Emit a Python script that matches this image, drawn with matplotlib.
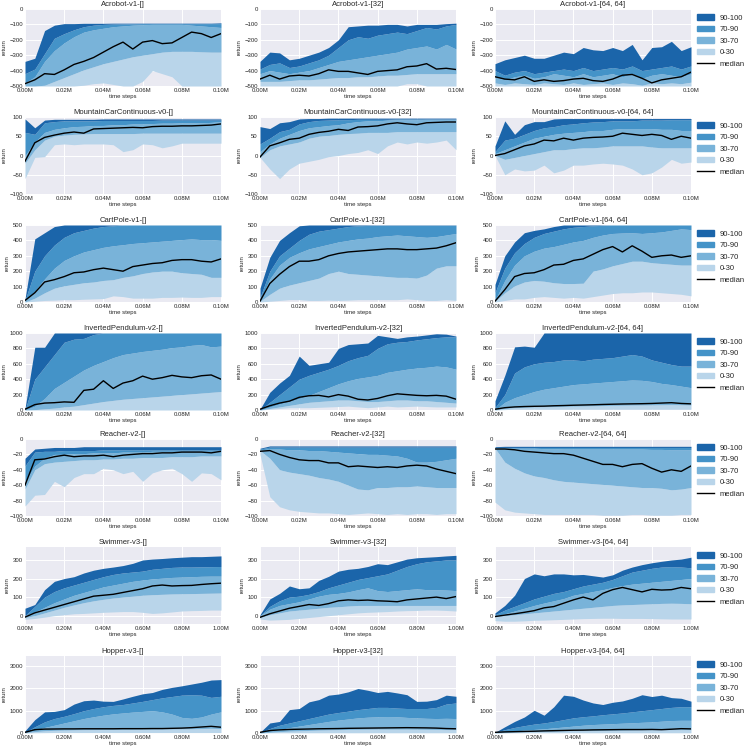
import matplotlib
matplotlib.use("Agg")
import matplotlib.pyplot as plt
from matplotlib.patches import Patch
from matplotlib.lines import Line2D
from matplotlib.ticker import FuncFormatter, MultipleLocator

plt.rcParams['font.family'] = ['Liberation Sans', 'DejaVu Sans']
plt.rcParams['axes.facecolor'] = '#EAEAF2'
plt.rcParams['axes.edgecolor'] = 'white'
plt.rcParams['axes.grid'] = True
plt.rcParams['axes.axisbelow'] = True
plt.rcParams['grid.color'] = 'white'
plt.rcParams['grid.linewidth'] = 0.7
plt.rcParams['xtick.major.size'] = 0
plt.rcParams['ytick.major.size'] = 0
plt.rcParams['text.color'] = '.15'
plt.rcParams['xtick.color'] = '.15'
plt.rcParams['ytick.color'] = '.15'
plt.rcParams['axes.labelcolor'] = '.15'

# time steps of the logged points
steps_short = [0, 5000, 10000, 15000, 20000, 25000, 30000, 35000, 40000, 45000, 50000,
               55000, 60000, 65000, 70000, 75000, 80000, 85000, 90000, 95000, 100000]
steps_long = [0, 50000, 100000, 150000, 200000, 250000, 300000, 350000, 400000, 450000, 500000,
              550000, 600000, 650000, 700000, 750000, 800000, 850000, 900000, 950000, 1000000]

# Acrobot-v1
acro_a_lo = [-500, -500, -500, -500, -500, -500, -495, -485, -480, -490, -500, -500, -470, -400, -420, -440, -500, -500, -500, -500, -500]
acro_a_p30 = [-500, -500, -495, -470, -445, -420, -395, -375, -355, -340, -325, -310, -300, -290, -280, -275, -275, -275, -278, -280, -280]
acro_a_p70 = [-480, -440, -340, -270, -220, -180, -150, -135, -125, -115, -110, -105, -102, -100, -100, -100, -100, -105, -110, -115, -120]
acro_a_p90 = [-420, -390, -290, -190, -160, -135, -115, -105, -100, -98, -97, -96, -95, -95, -95, -95, -95, -95, -95, -95, -95]
acro_a_hi = [-340, -320, -140, -105, -95, -95, -93, -93, -93, -92, -92, -92, -92, -92, -92, -92, -92, -92, -92, -92, -90]
acro_a_med = [-485, -460, -420, -425, -395, -360, -340, -315, -280, -245, -215, -260, -215, -205, -225, -220, -185, -150, -160, -185, -160]

acro_b_lo = [-500, -500, -500, -500, -500, -500, -500, -500, -500, -500, -500, -500, -500, -500, -500, -485, -485, -500, -500, -500, -500]
acro_b_p30 = [-470, -470, -470, -465, -460, -460, -455, -450, -445, -445, -440, -440, -435, -430, -430, -425, -420, -420, -420, -420, -420]
acro_b_p70 = [-420, -400, -410, -420, -410, -400, -380, -360, -340, -330, -320, -310, -300, -290, -280, -260, -250, -240, -260, -230, -260]
acro_b_p90 = [-390, -360, -350, -380, -370, -350, -330, -300, -250, -200, -180, -190, -170, -160, -150, -160, -140, -120, -130, -110, -100]
acro_b_hi = [-340, -280, -285, -330, -320, -300, -280, -250, -200, -115, -110, -105, -105, -100, -100, -110, -100, -100, -100, -95, -92]
acro_b_med = [-455, -430, -455, -435, -430, -435, -420, -395, -405, -405, -415, -425, -405, -400, -395, -375, -370, -355, -390, -385, -393]

acro_c_lo = [-500, -500, -500, -500, -500, -500, -500, -500, -500, -500, -500, -500, -500, -500, -500, -500, -500, -500, -500, -500, -500]
acro_c_p30 = [-480, -490, -480, -485, -490, -480, -485, -490, -480, -490, -485, -480, -490, -480, -485, -495, -480, -485, -480, -485, -475]
acro_c_p70 = [-440, -460, -440, -430, -450, -440, -420, -430, -440, -420, -440, -430, -420, -440, -420, -450, -430, -420, -430, -440, -420]
acro_c_p90 = [-400, -430, -410, -400, -420, -410, -400, -390, -400, -380, -400, -390, -380, -390, -370, -400, -390, -380, -370, -390, -370]
acro_c_hi = [-355, -330, -315, -300, -320, -320, -300, -280, -290, -250, -265, -270, -250, -270, -230, -330, -250, -245, -210, -270, -245]
acro_c_med = [-440, -455, -460, -440, -470, -460, -470, -465, -455, -450, -465, -470, -455, -430, -425, -450, -480, -460, -450, -440, -410]

# MountainCarContinuous-v0
mcar_a_lo = [-60, -5, -3, 28, 30, 28, 30, 30, 30, 28, 10, 15, 30, 28, 20, 25, 32, 32, 32, 32, 32]
mcar_a_p30 = [-20, 15, 40, 50, 53, 55, 56, 57, 57, 57, 57, 57, 58, 58, 58, 58, 58, 58, 58, 58, 58]
mcar_a_p70 = [0, 35, 60, 68, 72, 75, 76, 78, 78, 80, 80, 82, 82, 83, 84, 84, 85, 85, 85, 86, 88]
mcar_a_p90 = [60, 55, 85, 88, 90, 90, 90, 90, 91, 91, 91, 91, 91, 91, 92, 92, 92, 92, 92, 92, 92]
mcar_a_hi = [95, 72, 92, 94, 94, 94, 94, 94, 95, 95, 95, 95, 95, 95, 95, 95, 95, 95, 95, 95, 95]
mcar_a_med = [-15, 33, 47, 53, 58, 61, 58, 69, 70, 71, 72, 73, 72, 75, 76, 76, 77, 77, 78, 79, 82]

mcar_b_lo = [-5, -35, -60, -35, -20, -15, -10, -3, 0, 5, 8, 15, 5, 25, 35, 30, 35, 32, 35, 40, 15]
mcar_b_p30 = [-5, 15, 25, 30, 35, 45, 50, 52, 55, 57, 58, 60, 60, 60, 62, 62, 62, 62, 62, 62, 62]
mcar_b_p70 = [10, 30, 45, 55, 65, 72, 75, 78, 80, 85, 88, 90, 90, 92, 93, 93, 93, 94, 94, 94, 94]
mcar_b_p90 = [30, 45, 62, 68, 82, 88, 91, 92, 93, 93, 94, 94, 94, 94, 95, 95, 95, 95, 95, 95, 95]
mcar_b_hi = [75, 70, 85, 88, 95, 96, 96, 97, 97, 97, 97, 97, 97, 97, 97, 97, 97, 97, 97, 97, 97]
mcar_b_med = [-4, 25, 33, 42, 45, 55, 60, 63, 68, 65, 74, 75, 77, 82, 85, 82, 80, 85, 86, 87, 87]

mcar_c_lo = [0, -50, -35, -40, -38, -25, -45, -38, -25, -25, -22, -20, -22, -25, -35, -50, -45, -30, -10, -20, -17]
mcar_c_p30 = [0, -10, -5, 0, 5, 10, 15, 15, 18, 20, 20, 22, 25, 25, 25, 25, 22, 20, 20, 20, 20]
mcar_c_p70 = [5, 15, 25, 35, 45, 50, 55, 58, 60, 62, 65, 65, 68, 70, 70, 70, 70, 68, 68, 65, 65]
mcar_c_p90 = [10, 40, 45, 55, 65, 72, 75, 80, 82, 85, 87, 88, 90, 90, 90, 92, 92, 92, 93, 93, 93]
mcar_c_hi = [25, 90, 55, 80, 88, 88, 95, 96, 96, 96, 96, 96, 96, 96, 96, 96, 96, 96, 96, 96, 96]
mcar_c_med = [0, 5, 15, 25, 30, 40, 38, 45, 40, 45, 47, 48, 50, 58, 55, 52, 55, 52, 42, 50, 45]

# CartPole-v1
cart_a_lo = [0, 5, 10, 12, 15, 15, 18, 20, 22, 40, 35, 25, 25, 25, 30, 30, 32, 30, 30, 35, 35]
cart_a_p30 = [0, 25, 60, 90, 105, 115, 125, 130, 140, 145, 160, 170, 185, 195, 200, 200, 190, 185, 180, 160, 160]
cart_a_p70 = [5, 70, 150, 220, 270, 300, 325, 340, 355, 365, 372, 380, 385, 390, 395, 400, 405, 410, 405, 405, 400]
cart_a_p90 = [10, 200, 300, 370, 420, 450, 465, 480, 490, 495, 500, 500, 500, 500, 500, 500, 500, 500, 500, 500, 500]
cart_a_hi = [20, 410, 450, 490, 500, 500, 500, 500, 500, 500, 500, 500, 500, 500, 500, 500, 500, 500, 500, 500, 500]
cart_a_med = [10, 60, 130, 145, 165, 190, 195, 210, 220, 210, 200, 230, 240, 250, 255, 270, 275, 275, 265, 260, 280]

cart_b_lo = [0, 5, 10, 15, 15, 10, 10, 12, 10, 12, 15, 15, 15, 15, 15, 20, 15, 10, 10, 15, 10]
cart_b_p30 = [5, 50, 90, 110, 125, 140, 155, 185, 200, 185, 180, 175, 170, 165, 160, 160, 155, 175, 220, 235, 235]
cart_b_p70 = [5, 150, 240, 290, 320, 345, 360, 375, 390, 400, 410, 415, 425, 430, 435, 430, 425, 420, 425, 435, 445]
cart_b_p90 = [30, 200, 300, 350, 400, 440, 460, 470, 480, 490, 495, 497, 498, 498, 498, 498, 498, 498, 498, 498, 498]
cart_b_hi = [90, 290, 400, 450, 495, 500, 500, 500, 500, 500, 500, 500, 500, 500, 500, 500, 500, 500, 500, 500, 500]
cart_b_med = [5, 120, 180, 230, 265, 265, 275, 300, 315, 325, 330, 335, 340, 345, 345, 340, 340, 345, 350, 365, 385]

cart_c_lo = [0, 10, 20, 20, 30, 35, 30, 25, 30, 25, 35, 45, 55, 60, 60, 65, 65, 60, 55, 50, 40]
cart_c_p30 = [5, 60, 105, 130, 140, 135, 125, 120, 120, 122, 200, 215, 235, 250, 265, 265, 255, 250, 245, 240, 240]
cart_c_p70 = [10, 140, 240, 300, 330, 350, 360, 375, 390, 400, 420, 435, 445, 448, 450, 445, 450, 455, 465, 475, 470]
cart_c_p90 = [60, 220, 320, 380, 420, 445, 460, 475, 485, 490, 495, 498, 500, 500, 500, 500, 500, 500, 500, 500, 500]
cart_c_hi = [115, 300, 390, 450, 465, 475, 490, 500, 500, 500, 500, 500, 500, 500, 500, 500, 500, 500, 500, 500, 500]
cart_c_med = [5, 80, 165, 185, 190, 210, 240, 245, 270, 280, 310, 340, 360, 325, 365, 330, 290, 300, 305, 290, 300]

# InvertedPendulum-v2
pend_a_lo = [0, 0, 0, 0, 0, 0, 0, 0, 0, 0, 0, 0, 0, 0, 0, 0, 0, 0, 0, 0, 0]
pend_a_p30 = [0, 5, 15, 25, 40, 50, 70, 90, 110, 125, 140, 150, 160, 170, 180, 190, 200, 210, 220, 230, 240]
pend_a_p70 = [0, 50, 150, 280, 360, 440, 520, 580, 630, 680, 720, 740, 760, 775, 790, 810, 820, 840, 850, 820, 830]
pend_a_p90 = [0, 400, 560, 720, 880, 920, 930, 980, 1000, 1000, 1000, 1000, 1000, 1000, 1000, 1000, 1000, 1000, 1000, 1000, 1000]
pend_a_hi = [20, 815, 815, 1000, 1000, 1000, 1000, 1000, 1000, 1000, 1000, 1000, 1000, 1000, 1000, 1000, 1000, 1000, 1000, 1000, 1000]
pend_a_med = [10, 70, 90, 95, 105, 100, 255, 270, 380, 280, 350, 380, 440, 400, 420, 450, 430, 420, 445, 455, 400]

pend_b_lo = [0, 10, 20, 30, 30, 30, 35, 40, 45, 50, 40, 30, 40, 50, 40, 45, 50, 45, 40, 40, 40]
pend_b_p30 = [0, 20, 40, 60, 80, 100, 110, 120, 130, 130, 120, 110, 110, 120, 130, 130, 120, 120, 110, 100, 90]
pend_b_p70 = [0, 40, 80, 110, 150, 190, 240, 290, 340, 380, 410, 430, 450, 490, 510, 530, 545, 555, 570, 560, 530]
pend_b_p90 = [0, 100, 200, 300, 400, 450, 490, 530, 580, 640, 680, 710, 800, 860, 880, 890, 910, 925, 940, 950, 950]
pend_b_hi = [10, 230, 350, 450, 700, 580, 600, 620, 800, 850, 860, 870, 970, 950, 930, 950, 960, 975, 990, 985, 960]
pend_b_med = [10, 55, 90, 115, 165, 185, 190, 170, 200, 180, 140, 130, 150, 185, 210, 200, 190, 185, 190, 180, 140]

pend_c_lo = [0, 5, 10, 10, 10, 10, 10, 10, 10, 10, 10, 10, 10, 10, 10, 10, 10, 10, 10, 10, 10]
pend_c_p30 = [0, 20, 30, 35, 40, 42, 45, 48, 50, 52, 55, 58, 60, 62, 64, 65, 66, 68, 70, 68, 65]
pend_c_p70 = [0, 100, 160, 200, 240, 270, 290, 310, 330, 340, 350, 360, 370, 380, 390, 385, 370, 345, 330, 310, 290]
pend_c_p90 = [30, 200, 480, 560, 600, 620, 630, 650, 650, 640, 660, 670, 680, 700, 720, 700, 650, 620, 590, 570, 570]
pend_c_hi = [120, 450, 820, 830, 815, 1000, 1000, 1000, 1000, 1000, 1000, 1000, 1000, 1000, 1000, 1000, 1000, 1000, 1000, 1000, 1000]
pend_c_med = [10, 30, 40, 45, 48, 50, 55, 58, 62, 65, 68, 72, 75, 78, 80, 82, 85, 90, 95, 85, 80]

# Reacher-v2
reach_a_lo = [-87, -73, -72, -55, -62, -50, -45, -45, -38, -40, -45, -42, -55, -44, -40, -38, -45, -55, -44, -45, -53]
reach_a_p30 = [-65, -40, -32, -30, -29, -28, -27, -27, -26, -26, -25, -25, -24, -24, -24, -23, -23, -23, -22, -22, -22]
reach_a_p70 = [-55, -35, -25, -20, -20, -19, -19, -18, -18, -18, -17, -17, -17, -16, -16, -16, -16, -16, -16, -16, -16]
reach_a_p90 = [-35, -17, -16, -16, -15, -15, -15, -15, -14, -14, -14, -14, -14, -14, -14, -14, -14, -14, -14, -14, -14]
reach_a_hi = [-25, -13, -12, -11, -11, -11, -10, -10, -10, -10, -10, -10, -10, -10, -10, -10, -10, -10, -10, -10, -10]
reach_a_med = [-60, -27, -26, -23, -21, -23, -22, -22, -21, -23, -21, -20, -19, -19, -18, -18, -17, -17, -17, -18, -16]

reach_b_lo = [-20, -75, -88, -92, -94, -95, -96, -96, -97, -98, -97, -96, -97, -98, -97, -98, -97, -97, -98, -97, -97]
reach_b_p30 = [-15, -25, -40, -43, -45, -47, -50, -52, -55, -60, -65, -66, -63, -63, -62, -62, -61, -62, -63, -63, -63]
reach_b_p70 = [-14, -13, -13, -14, -14, -15, -15, -16, -17, -18, -19, -20, -20, -21, -22, -25, -30, -30, -29, -27, -25]
reach_b_p90 = [-13, -10.5, -10.5, -10.5, -10.5, -10.5, -10.5, -10.5, -10.5, -10.5, -10.5, -10.5, -10.5, -10.5, -10.5, -10.5, -10.5, -10.5, -10.5, -10.5, -10.5]
reach_b_hi = [-12, -9, -9, -9, -9, -9, -9, -9, -9, -9, -9, -9, -9, -9, -9, -9, -9, -9, -9, -9, -9]
reach_b_med = [-16, -15, -20, -24, -27, -28, -28, -31, -31, -36, -35, -36, -37, -36, -37, -35, -34, -35, -39, -42, -45]

reach_c_lo = [-82, -92, -95, -96, -97, -98, -98, -98, -98, -98, -98, -99, -99, -99, -98, -98, -99, -99, -99, -98, -98]
reach_c_p30 = [-12, -30, -38, -44, -48, -50, -53, -55, -56, -57, -58, -59, -60, -61, -62, -63, -63, -64, -66, -65, -63]
reach_c_p70 = [-12, -12, -12, -12, -12, -12.5, -12.5, -13, -13, -13, -13, -13, -13, -13, -13, -13, -13.5, -13.5, -14, -14, -14]
reach_c_p90 = [-11, -11, -11, -11, -11, -11, -11, -11, -11, -11, -11, -11, -11, -11, -11, -11, -11, -11, -11, -11, -11]
reach_c_hi = [-10, -9.5, -9.5, -9.5, -9.5, -9.5, -9.5, -9.5, -9.5, -9.5, -9.5, -9.5, -9.5, -9.5, -9.5, -9.5, -9.5, -9.5, -9.5, -9.5, -9.5]
reach_c_med = [-13, -13, -14, -16, -17, -18, -19, -19, -21, -25, -29, -33, -33, -36, -33, -32, -38, -43, -40, -42, -35]

# Swimmer-v3
swim_a_lo = [-20, -15, -8, 0, 5, 10, 12, 15, 18, 20, 22, 22, 18, 12, 15, 20, 25, 27, 28, 30, 30]
swim_a_p30 = [-10, 0, 15, 30, 45, 58, 70, 80, 88, 95, 100, 105, 110, 113, 115, 117, 118, 119, 120, 121, 122]
swim_a_p70 = [0, 20, 45, 70, 90, 110, 125, 140, 155, 165, 175, 185, 192, 198, 202, 206, 208, 210, 212, 213, 213]
swim_a_p90 = [0, 50, 100, 130, 150, 165, 180, 195, 210, 222, 230, 235, 240, 250, 255, 260, 262, 262, 263, 264, 265]
swim_a_hi = [40, 60, 140, 185, 200, 210, 230, 245, 255, 262, 270, 282, 300, 305, 308, 312, 315, 318, 318, 320, 322]
swim_a_med = [-8, 15, 30, 45, 60, 75, 90, 105, 110, 115, 125, 135, 145, 160, 165, 160, 162, 163, 168, 172, 175]

swim_b_lo = [-18, -24, -22, -20, -15, -10, -5, 0, 5, 10, 15, 18, 20, 22, 25, 27, 28, 30, 30, 28, 25]
swim_b_p30 = [-10, 5, 15, 25, 30, 35, 40, 45, 48, 52, 55, 55, 55, 55, 55, 55, 55, 55, 55, 55, 55]
swim_b_p70 = [0, 35, 55, 65, 75, 90, 105, 115, 120, 128, 140, 150, 135, 130, 135, 140, 145, 140, 140, 138, 135]
swim_b_p90 = [0, 50, 80, 100, 105, 115, 130, 150, 165, 180, 195, 205, 215, 225, 245, 265, 280, 290, 295, 300, 300]
swim_b_hi = [5, 90, 120, 160, 145, 150, 190, 212, 240, 250, 255, 265, 280, 275, 290, 305, 312, 315, 318, 322, 325]
swim_b_med = [-9, 10, 25, 40, 50, 60, 55, 65, 80, 85, 82, 84, 80, 78, 75, 85, 90, 95, 100, 92, 103]

swim_c_lo = [-27, -30, -30, -28, -25, -24, -22, -20, -18, -16, -15, -14, -14, -15, -15, -15, -16, -17, -18, -18, -18]
swim_c_p30 = [-5, 0, 5, 10, 15, 20, 25, 30, 35, 40, 45, 50, 55, 58, 60, 62, 64, 66, 67, 66, 64]
swim_c_p70 = [0, 10, 25, 40, 55, 68, 80, 92, 110, 120, 130, 140, 152, 162, 170, 175, 180, 185, 190, 195, 200]
swim_c_p90 = [5, 30, 50, 70, 90, 105, 120, 130, 145, 160, 170, 180, 195, 215, 235, 245, 255, 262, 264, 262, 258]
swim_c_hi = [15, 55, 110, 200, 225, 215, 225, 225, 220, 222, 215, 208, 220, 245, 262, 275, 285, 293, 300, 305, 315]
swim_c_med = [-5, 3, 10, 18, 27, 42, 49, 67, 85, 100, 85, 120, 140, 152, 140, 128, 142, 138, 140, 152, 145]

# Hopper-v3
hop_a_lo = [0, 10, 15, 20, 20, 20, 20, 20, 20, 20, 20, 20, 20, 20, 20, 20, 20, 20, 20, 20, 20]
hop_a_p30 = [10, 60, 100, 120, 130, 140, 150, 155, 160, 160, 165, 165, 170, 170, 175, 180, 185, 190, 200, 210, 200]
hop_a_p70 = [20, 120, 250, 350, 450, 550, 650, 730, 800, 860, 900, 940, 970, 1000, 950, 850, 700, 660, 720, 850, 950]
hop_a_p90 = [30, 280, 500, 650, 750, 870, 1000, 1100, 1180, 1240, 1280, 1350, 1420, 1500, 1580, 1640, 1700, 1720, 1700, 1600, 1650]
hop_a_hi = [100, 600, 950, 970, 1050, 1300, 1450, 1480, 1430, 1420, 1530, 1650, 1760, 1820, 1960, 2050, 2120, 2200, 2280, 2380, 2400]
hop_a_med = [30, 150, 175, 180, 185, 185, 190, 190, 190, 190, 195, 195, 195, 200, 200, 210, 220, 240, 270, 300, 260]

hop_b_lo = [0, 10, 10, 10, 10, 10, 10, 10, 10, 10, 10, 10, 10, 10, 10, 10, 10, 10, 10, 10, 10]
hop_b_p30 = [0, 30, 60, 85, 100, 115, 130, 140, 150, 160, 165, 170, 175, 175, 175, 175, 170, 165, 160, 155, 150]
hop_b_p70 = [10, 80, 160, 240, 310, 380, 450, 520, 580, 630, 680, 710, 730, 740, 730, 700, 680, 660, 650, 660, 650]
hop_b_p90 = [20, 200, 350, 450, 550, 650, 750, 850, 920, 980, 1050, 1100, 1150, 1150, 1120, 1100, 1100, 1100, 1150, 1300, 1350]
hop_b_hi = [30, 450, 520, 1050, 1100, 1400, 1500, 1700, 1750, 1850, 2000, 1920, 1820, 1870, 1800, 1720, 1420, 1430, 1500, 1700, 1650]
hop_b_med = [30, 110, 140, 160, 170, 180, 190, 195, 200, 210, 215, 220, 225, 230, 235, 240, 235, 230, 220, 200, 190]

hop_c_lo = [0, 5, 10, 10, 10, 10, 10, 10, 10, 10, 10, 10, 10, 10, 10, 10, 10, 10, 10, 10, 10]
hop_c_p30 = [0, 20, 40, 55, 65, 75, 80, 90, 100, 105, 110, 115, 120, 125, 130, 135, 140, 140, 145, 150, 150]
hop_c_p70 = [10, 50, 90, 130, 160, 190, 230, 270, 310, 350, 380, 400, 420, 440, 460, 480, 500, 530, 560, 570, 570]
hop_c_p90 = [20, 150, 250, 330, 400, 450, 520, 600, 680, 730, 770, 820, 860, 900, 950, 1000, 1050, 1100, 1150, 1180, 1180]
hop_c_hi = [30, 280, 520, 720, 1020, 800, 1180, 1700, 1650, 1480, 1350, 1280, 1380, 1440, 1560, 1720, 1640, 1700, 1590, 1560, 1430]
hop_c_med = [30, 50, 60, 70, 80, 95, 105, 115, 125, 130, 140, 145, 150, 155, 155, 155, 160, 150, 170, 195, 185]

envs = ["Acrobot-v1", "MountainCarContinuous-v0", "CartPole-v1", "InvertedPendulum-v2",
        "Reacher-v2", "Swimmer-v3", "Hopper-v3"]
archs = ["[]", "[32]", "[64, 64]"]

rows = [
    [(acro_a_lo, acro_a_p30, acro_a_p70, acro_a_p90, acro_a_hi, acro_a_med),
     (acro_b_lo, acro_b_p30, acro_b_p70, acro_b_p90, acro_b_hi, acro_b_med),
     (acro_c_lo, acro_c_p30, acro_c_p70, acro_c_p90, acro_c_hi, acro_c_med)],
    [(mcar_a_lo, mcar_a_p30, mcar_a_p70, mcar_a_p90, mcar_a_hi, mcar_a_med),
     (mcar_b_lo, mcar_b_p30, mcar_b_p70, mcar_b_p90, mcar_b_hi, mcar_b_med),
     (mcar_c_lo, mcar_c_p30, mcar_c_p70, mcar_c_p90, mcar_c_hi, mcar_c_med)],
    [(cart_a_lo, cart_a_p30, cart_a_p70, cart_a_p90, cart_a_hi, cart_a_med),
     (cart_b_lo, cart_b_p30, cart_b_p70, cart_b_p90, cart_b_hi, cart_b_med),
     (cart_c_lo, cart_c_p30, cart_c_p70, cart_c_p90, cart_c_hi, cart_c_med)],
    [(pend_a_lo, pend_a_p30, pend_a_p70, pend_a_p90, pend_a_hi, pend_a_med),
     (pend_b_lo, pend_b_p30, pend_b_p70, pend_b_p90, pend_b_hi, pend_b_med),
     (pend_c_lo, pend_c_p30, pend_c_p70, pend_c_p90, pend_c_hi, pend_c_med)],
    [(reach_a_lo, reach_a_p30, reach_a_p70, reach_a_p90, reach_a_hi, reach_a_med),
     (reach_b_lo, reach_b_p30, reach_b_p70, reach_b_p90, reach_b_hi, reach_b_med),
     (reach_c_lo, reach_c_p30, reach_c_p70, reach_c_p90, reach_c_hi, reach_c_med)],
    [(swim_a_lo, swim_a_p30, swim_a_p70, swim_a_p90, swim_a_hi, swim_a_med),
     (swim_b_lo, swim_b_p30, swim_b_p70, swim_b_p90, swim_b_hi, swim_b_med),
     (swim_c_lo, swim_c_p30, swim_c_p70, swim_c_p90, swim_c_hi, swim_c_med)],
    [(hop_a_lo, hop_a_p30, hop_a_p70, hop_a_p90, hop_a_hi, hop_a_med),
     (hop_b_lo, hop_b_p30, hop_b_p70, hop_b_p90, hop_b_hi, hop_b_med),
     (hop_c_lo, hop_c_p30, hop_c_p70, hop_c_p90, hop_c_hi, hop_c_med)],
]

# y range and tick step per environment, x grid per environment
ylims = [(-500, 0), (-100, 100), (0, 500), (0, 1000), (-100, 0), (-45, 370), (0, 3460)]
ysteps = [100, 50, 100, 200, 20, 100, 1000]
xgrids = [steps_short] * 5 + [steps_long] * 2

band_labels = ["0-30", "30-70", "70-90", "90-100"]
band_colors = ["#b9d5ea", "#79b3d9", "#4493c8", "#1b65aa"]

W = 748
fig = plt.figure(figsize=(7.48, 7.48), dpi=100)
col_left = [25, 260, 495]
row_top = [9, 117, 225, 333, 439, 547, 656]
ax_w, ax_h = 196, 77

fmt_m = FuncFormatter(lambda v, p: f"{v / 1e6:.2f}M")

for r, env in enumerate(envs):
    steps = xgrids[r]
    for c, arch in enumerate(archs):
        ax = fig.add_axes([col_left[c] / W, 1 - (row_top[r] + ax_h) / W, ax_w / W, ax_h / W])
        series = rows[r][c]
        # bands between neighbouring percentiles
        for b in range(4):
            ax.fill_between(steps, series[b], series[b + 1], color=band_colors[b],
                            linewidth=0, label=band_labels[b])
        ax.plot(steps, series[5], color="black", linewidth=1.0, label="median")
        ax.set_xlim(steps[0], steps[-1])
        ax.set_ylim(*ylims[r])
        ax.xaxis.set_major_locator(MultipleLocator(steps[-1] / 5))
        ax.yaxis.set_major_locator(MultipleLocator(ysteps[r]))
        ax.xaxis.set_major_formatter(fmt_m)
        ax.tick_params(labelsize=4.3, pad=1.5)
        for s in ax.spines.values():
            s.set_visible(False)
        ax.set_title(f"{env}-{arch}", fontsize=5.5, pad=2.5)
        ax.set_xlabel("time steps", fontsize=4.3, labelpad=1)
        ax.set_ylabel("return", fontsize=4.3, labelpad=2)
        if c == 2:
            handles = [Patch(color=band_colors[3]), Patch(color=band_colors[2]),
                       Patch(color=band_colors[1]), Patch(color=band_colors[0]),
                       Line2D([], [], color="black", linewidth=1.0)]
            ax.legend(handles, ["90-100", "70-90", "30-70", "0-30", "median"],
                      loc="upper left", bbox_to_anchor=(1.015, 0.97), borderaxespad=0,
                      frameon=False, fontsize=5.5, labelspacing=0.55, handlelength=2.2)

fig.savefig("out.png", dpi=100)
